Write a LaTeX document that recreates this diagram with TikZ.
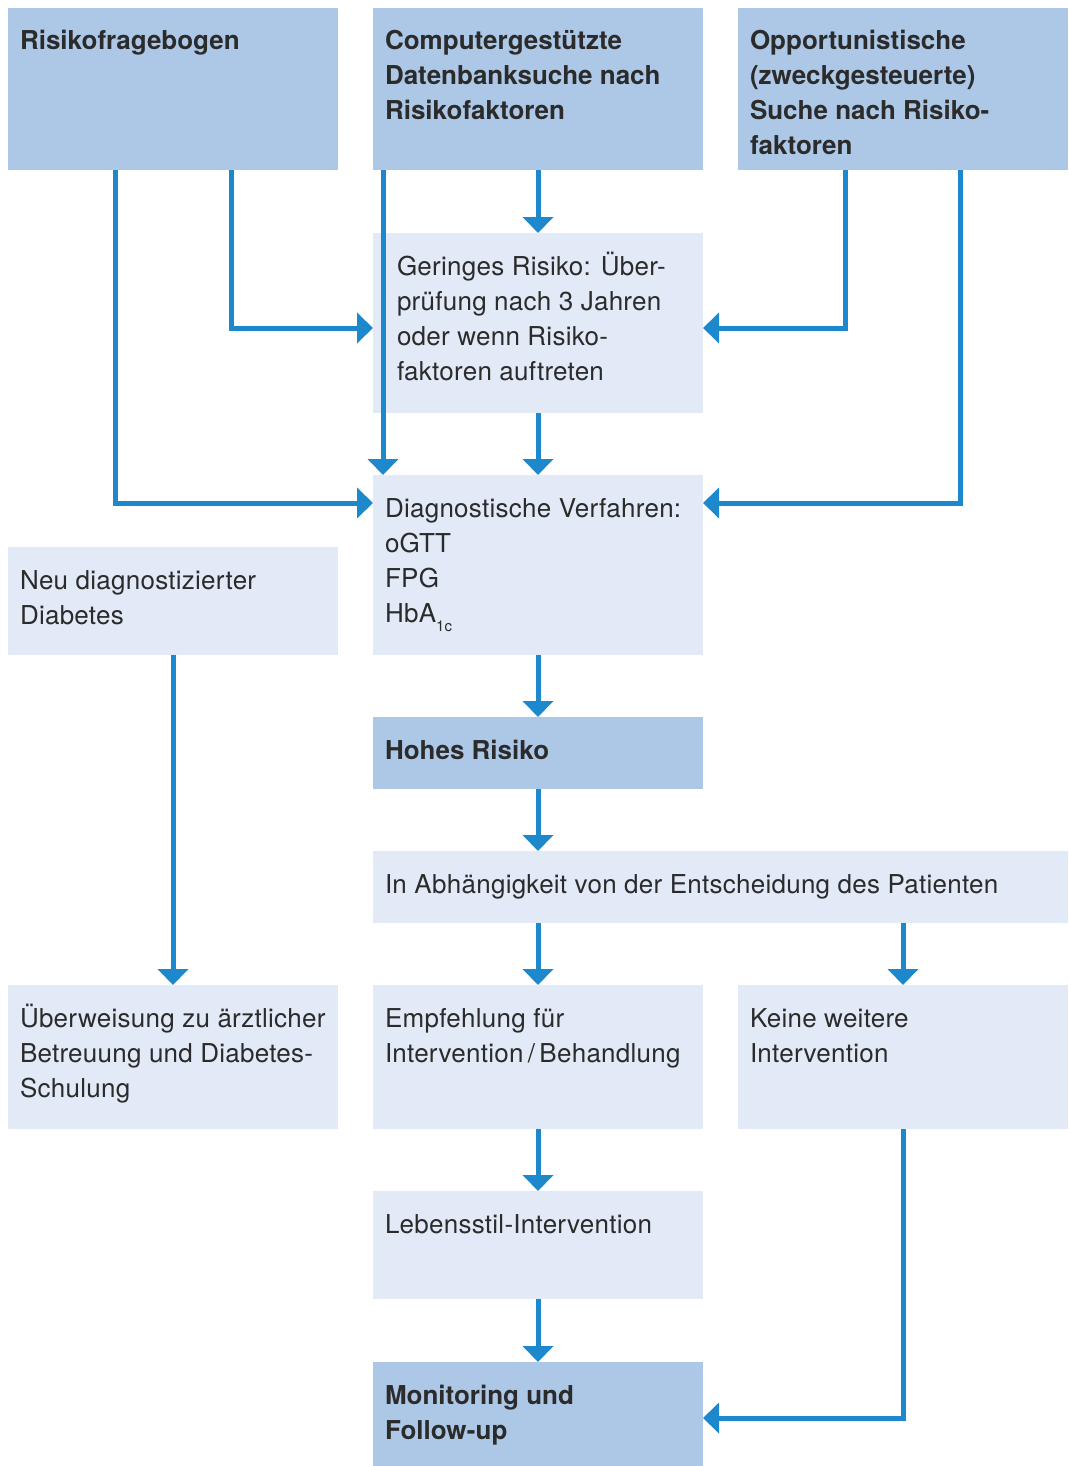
\documentclass[tikz,border=0pt]{standalone}
\usepackage{fontspec}
\setmainfont{TeX Gyre Heros}[LetterSpace=1.0, BoldFeatures={LetterSpace=0}]
\usetikzlibrary{arrows.meta}
\definecolor{boxdark}{HTML}{ADC8E6}
\definecolor{boxlight}{HTML}{E1EAF6}
\definecolor{arrowblue}{HTML}{1E88CC}
\definecolor{txtgray}{HTML}{2B2B2B}
\newcommand{\tstrut}{\rule{0pt}{25pt}}
\newcommand{\lowsub}[1]{\raisebox{-9pt}{\fontsize{15}{15}\selectfont #1}}
\begin{document}
\begin{tikzpicture}[x=1pt,y=-1pt,
  box/.style={rectangle, inner sep=0pt, outer sep=0pt, anchor=north west, draw=none, minimum width=330pt},
  dark/.style={box, fill=boxdark},
  light/.style={box, fill=boxlight},
  lbl/.style={anchor=north west, inner sep=0pt, outer sep=0pt, align=left, text=txtgray, font=\fontsize{26}{35}\selectfont},
  blbl/.style={lbl, font=\fontsize{26}{35}\selectfont\bfseries},
  arr/.style={draw=arrowblue, line width=5pt, -{Triangle[width=30pt,length=16pt]}}
]
\useasboundingbox (0,0) rectangle (1068,1466);
\fill[white] (0,0) rectangle (1068,1466);

% boxes
\node[dark, minimum height=162pt] (risk) at (8,8) {};
\node[dark, minimum height=162pt] (comp) at (373,8) {};
\node[dark, minimum height=162pt] (opp) at (738,8) {};
\node[light, minimum height=180pt] (low) at (373,233) {};
\node[light, minimum height=180pt] (diag) at (373,475) {};
\node[light, minimum height=108pt] (neu) at (8,547) {};
\node[dark, minimum height=72pt] (high) at (373,717) {};
\node[light, minimum height=72pt, minimum width=695pt] (decide) at (373,851) {};
\node[light, minimum height=144pt] (refer) at (8,985) {};
\node[light, minimum height=144pt] (rec) at (373,985) {};
\node[light, minimum height=144pt] (keine) at (738,985) {};
\node[light, minimum height=108pt] (life) at (373,1191) {};
\node[dark, minimum height=104pt] (mon) at (373,1362) {};

% texts
\node[blbl] (risk-t) at ([shift={(12pt,-17pt)}]risk.north west) {\tstrut Risikofragebogen};
\node[blbl] (comp-t) at ([shift={(12pt,-17pt)}]comp.north west) {\tstrut Computergestützte\\Datenbanksuche nach\\Risikofaktoren};
\node[blbl] (opp-t) at ([shift={(12pt,-17pt)}]opp.north west) {\tstrut Opportunistische\\(zweckgesteuerte)\\Suche nach Risiko-\\faktoren};
\node[lbl] (low-t) at ([shift={(24pt,-17pt)}]low.north west) {\tstrut Geringes Risiko: Über-\\prüfung nach 3 Jahren\\oder wenn Risiko-\\faktoren auftreten};
\node[lbl] (diag-t) at ([shift={(12pt,-17pt)}]diag.north west) {\tstrut Diagnostische Verfahren:\\oGTT\\FPG\\HbA\lowsub{1c}};
\node[lbl] (neu-t) at ([shift={(12pt,-17pt)}]neu.north west) {\tstrut Neu diagnostizierter\\Diabetes};
\node[blbl] (high-t) at ([shift={(12pt,-17pt)}]high.north west) {\tstrut Hohes Risiko};
\node[lbl] (decide-t) at ([shift={(12pt,-17pt)}]decide.north west) {\tstrut In Abhängigkeit von der Entscheidung des Patienten};
\node[lbl] (refer-t) at ([shift={(12pt,-17pt)}]refer.north west) {\tstrut Überweisung zu ärztlicher\\Betreuung und Diabetes-\\Schulung};
\node[lbl] (rec-t) at ([shift={(12pt,-17pt)}]rec.north west) {\tstrut Empfehlung für\\Intervention\,/\,Behandlung};
\node[lbl] (keine-t) at ([shift={(12pt,-17pt)}]keine.north west) {\tstrut Keine weitere\\Intervention};
\node[lbl] (life-t) at ([shift={(12pt,-17pt)}]life.north west) {\tstrut Lebensstil-Intervention};
\node[blbl] (mon-t) at ([shift={(12pt,-17pt)}]mon.north west) {\tstrut Monitoring und\\Follow-up};

% connectors
\draw[arr] ([xshift=223pt]risk.south west) |- ([yshift=-95pt]low.north west);
\draw[arr] ([xshift=107pt]risk.south west) |- ([yshift=-28pt]diag.north west);
\draw[arr] (comp.south) -- (low.north);
\draw[arr] ([xshift=10pt]comp.south west) -- ([xshift=10pt]diag.north west);
\draw[arr] ([xshift=107pt]opp.south west) |- ([yshift=-95pt]low.north east);
\draw[arr] ([xshift=222pt]opp.south west) |- ([yshift=-28pt]diag.north east);
\draw[arr] (low.south) -- (diag.north);
\draw[arr] (diag.south) -- (high.north);
\draw[arr] (high.south) -- (high.south |- decide.north);
\draw[arr] (rec.north |- decide.south) -- (rec.north);
\draw[arr] (keine.north |- decide.south) -- (keine.north);
\draw[arr] (neu.south) -- (refer.north);
\draw[arr] (rec.south) -- (life.north);
\draw[arr] (life.south) -- (mon.north);
\draw[arr] (keine.south) |- ([yshift=-56pt]mon.north east);
\end{tikzpicture}
\end{document}
